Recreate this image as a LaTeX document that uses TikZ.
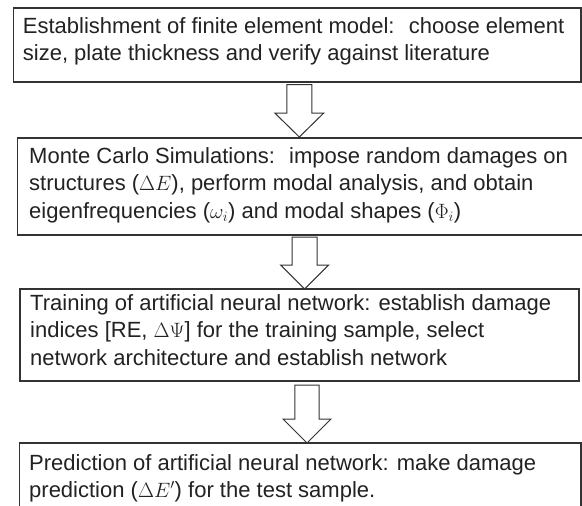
\documentclass[tikz,border=0pt]{standalone}
\usepackage{fontspec}
\setmainfont{Liberation Sans}
\usetikzlibrary{calc}
\definecolor{edge}{HTML}{333333}
\definecolor{ink}{HTML}{222222}
\tikzset{
  stagebox/.style={draw=edge, line width=1.3pt, fill=white},
  stagetext/.style={anchor=base west, inner sep=0pt, align=left, text=ink,
    font=\fontsize{22}{27.5}\selectfont},
  blockarrow/.style={draw=edge, line width=1pt, fill=white, line join=miter},
}
\newcommand{\downarrowshape}[4]{% #1 top coord, #2 tip coord, #3 stem half width, #4 head half width
  \draw[blockarrow] ($(#1)+(-#3,0)$) -- ($(#1)+(#3,0)$) -- ($(#2)+(#3,-24)$) -- ($(#2)+(#4,-24)$) -- (#2)
    -- ($(#2)+(-#4,-24)$) -- ($(#2)+(-#3,-24)$) -- cycle;}
\begin{document}
\begin{tikzpicture}[x=1pt,y=-1pt]
\useasboundingbox (0,0) rectangle (582,506);
\clip (0,0) rectangle (582,506);
% boxes
\draw[stagebox] (13.7,8) rectangle (581,82);
\node[minimum width=567pt, minimum height=74pt, anchor=north west, inner sep=0pt] (b1) at (13.7,8) {};
\draw[stagebox] (17.3,138) rectangle (595,235);
\node[minimum width=578pt, minimum height=97pt, anchor=north west, inner sep=0pt] (b2) at (17.3,138) {};
\draw[stagebox] (20,289) rectangle (579,381);
\node[minimum width=559pt, minimum height=92pt, anchor=north west, inner sep=0pt] (b3) at (20,289) {};
\draw[stagebox] (19.3,443) rectangle (581,520);
\node[minimum width=562pt, minimum height=77pt, anchor=north west, inner sep=0pt] (b4) at (19.3,443) {};
% texts (anchor = baseline of last line)
\node[stagetext] (t1) at (22.7,60.5) {Establishment of finite element model:~ choose element\\size, plate thickness and verify against literature};
\node[stagetext] (t2) at (29,218) {Monte Carlo Simulations:~ impose random damages on\\structures ($\Delta E$), perform modal analysis, and obtain\\eigenfrequencies ($\omega_i$) and modal shapes ($\Phi_i$)};
\node[stagetext] (t3) at (30,365) {Training of artificial neural network: establish damage\\indices [RE, $\Delta\Psi$] for the training sample, select\\network architecture and establish network};
\node[stagetext] (t4) at (29,497.5) {Prediction of artificial neural network: make damage\\prediction ($\Delta E'$) for the test sample.};
% arrows
\coordinate (a1s) at (299.3,84.7);
\coordinate (a1e) at (299.3,137);
\coordinate (a2s) at (304.7,237);
\coordinate (a2e) at (304.7,289);
\coordinate (a3s) at (307,385);
\coordinate (a3e) at (307,443);
\downarrowshape{a1s}{a1e}{12.5}{24.5}
\downarrowshape{a2s}{a2e}{12.5}{24}
\downarrowshape{a3s}{a3e}{12.2}{24}
\end{tikzpicture}
\end{document}
